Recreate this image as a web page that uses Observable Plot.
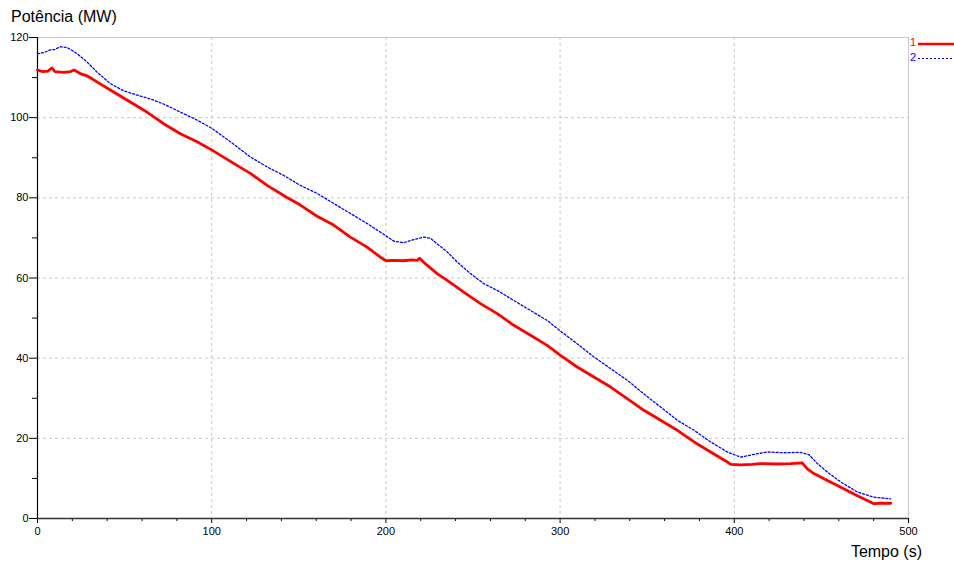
<!DOCTYPE html>
<html>
<head>
<meta charset="utf-8">
<script src="https://cdn.jsdelivr.net/npm/d3@7"></script>
<script src="https://cdn.jsdelivr.net/npm/@observablehq/plot@0.6"></script>
<style>
  html, body { margin: 0; padding: 0; background: #fff; }
  #chart { width: 954px; height: 563px; }
</style>
</head>
<body>
<div id="chart"></div>
<script>
// Series 1 (red, solid) — time (s) and power (MW)
const t1 = [0, 3, 6, 8.3, 10, 15, 19, 21, 24.5, 28, 32, 41.8, 51.3, 62.8, 72.4, 82, 91.6, 100.2, 112.6, 122.2,
  131.8, 143.2, 150.9, 160.5, 170, 179.6, 189.2, 196.8, 200, 205, 210, 215, 218, 219.4, 223.6, 229.4, 235.2,
  244.7, 254.3, 263.9, 273.4, 283, 292.6, 300.2, 309.8, 319.4, 329, 338.5, 348.1, 357.7, 367.3, 376.9, 386.4,
  396, 398, 403.6, 410, 415.1, 425, 432.3, 439, 441.9, 445.7, 451.5, 461.1, 470.6, 480.2, 484, 489.8];
const p1 = [111.9, 111.5, 111.6, 112.4, 111.5, 111.3, 111.5, 111.9, 111, 110.5, 109.5, 106.9, 104.4, 101.4, 98.5, 96, 94, 91.9, 88.6, 86.1,
  83.1, 80.1, 78.2, 75.4, 73.2, 70.2, 67.7, 65.2, 64.3, 64.4, 64.3, 64.5, 64.4, 64.9, 63.2, 61.1, 59.4,
  56.5, 53.6, 51.1, 48.2, 45.7, 43.2, 40.7, 37.8, 35.3, 32.8, 29.9, 27, 24.5, 22, 19.1, 16.6,
  14.1, 13.5, 13.4, 13.5, 13.7, 13.6, 13.7, 13.9, 12.4, 11.2, 9.9, 7.8, 5.7, 3.7, 3.8, 3.8];

// Series 2 (blue, dotted)
const t2 = [0, 4, 7.3, 10, 13, 16.9, 19, 22.6, 28.4, 34.1, 41.8, 49.4, 59, 66, 72.4, 83.9, 91.6, 100.2, 110.7, 122.2,
  131.8, 141.3, 150.9, 160.5, 170, 179.6, 189.2, 198.7, 204.5, 210.2, 216, 221.7, 225.6, 230.3, 235.2, 240.9,
  248.5, 256.2, 263.9, 273.4, 283, 292.6, 302.2, 309.8, 319.4, 329, 338.5, 348.1, 357.7, 367.3, 376.9, 386.4,
  396, 403.6, 411.3, 419, 428.5, 438.1, 442.9, 447.7, 453.4, 461.1, 470.6, 480.2, 489.8];
const p2 = [115.9, 116.3, 116.9, 117, 117.7, 117.5, 117, 116, 113.9, 111.4, 108.5, 106.7, 105.4, 104.5, 103.4, 101, 99.4, 97.3, 94, 90.2,
  87.7, 85.6, 83.1, 81.1, 78.6, 76.1, 73.6, 70.9, 69.2, 68.8, 69.6, 70.2, 69.9, 68.2, 66.5, 64,
  61.1, 58.6, 56.9, 54.4, 51.9, 49.4, 46.1, 43.6, 40.3, 37.4, 34.5, 31.1, 27.8, 24.5, 22, 19.1,
  16.6, 15.3, 16, 16.6, 16.4, 16.5, 15.9, 13.7, 11.6, 9.1, 6.6, 5.3, 4.9];

// Ticks and labels
const xMajor = [0, 100, 200, 300, 400, 500];
const xMinor = [20, 40, 60, 80, 120, 140, 160, 180, 220, 240, 260, 280, 320, 340, 360, 380, 420, 440, 460, 480];
const yMajor = [0, 20, 40, 60, 80, 100, 120];
const yMinor = [10, 30, 50, 70, 90, 110];
const xGrid = [100, 200, 300, 400];
const yGrid = [20, 40, 60, 80, 100];
const yTitle = "Potência (MW)";
const xTitle = "Tempo (s)";
const seriesNames = ["1", "2"];
const seriesColors = ["#ff0000", "#0000ff"];

const s1 = t1.map((t, i) => ({t, p: p1[i]}));
const s2 = t2.map((t, i) => ({t, p: p2[i]}));

const W = 954, H = 563;
const gridStyle = {stroke: "#c8c8c8", strokeOpacity: 1, strokeDasharray: "3,3"};

const svg = Plot.plot({
  width: W,
  height: H,
  marginLeft: 37,
  marginRight: 46,
  marginTop: 37,
  marginBottom: 45,
  style: {fontFamily: "'Liberation Sans', Arial, sans-serif", fontSize: "11px", background: "#fff", color: "#000"},
  x: {domain: [0, 500], label: null},
  y: {domain: [0, 120], label: null},
  marks: [
    Plot.gridX(xGrid, gridStyle),
    Plot.gridY(yGrid, gridStyle),
    Plot.ruleY([120], {stroke: "#c8c8c8"}),
    Plot.ruleX([500], {stroke: "#c8c8c8"}),
    Plot.axisY(yMajor, {tickSize: 8, tickPadding: 1, label: null, stroke: "#000", strokeOpacity: 1}),
    Plot.axisY(yMinor, {tickSize: 5, tickFormat: () => "", label: null, stroke: "#000", strokeOpacity: 1}),
    Plot.axisX(xMajor, {tickSize: 5, tickPadding: 4, label: null, stroke: "#000", strokeOpacity: 1}),
    Plot.axisX(xMinor, {tickSize: 3, tickFormat: () => "", label: null, stroke: "#000", strokeOpacity: 1}),
    Plot.ruleX([0], {stroke: "#000", strokeWidth: 1.2}),
    Plot.ruleY([0], {stroke: "#333", strokeWidth: 1.5}),
    Plot.line(s2, {x: "t", y: "p", stroke: seriesColors[1], strokeWidth: 1.3, strokeDasharray: "2,2"}),
    Plot.line(s1, {x: "t", y: "p", stroke: seriesColors[0], strokeWidth: 2.8})
  ]
});

const root = d3.select(svg);
root.append("text")
  .attr("x", 11).attr("y", 22).attr("text-anchor", "start")
  .attr("font-size", 16).attr("font-family", "'Liberation Sans', Arial, sans-serif")
  .attr("fill", "#000").text(yTitle);
root.append("text")
  .attr("x", 922).attr("y", 557).attr("text-anchor", "end")
  .attr("font-size", 16).attr("font-family", "'Liberation Sans', Arial, sans-serif")
  .attr("fill", "#000").text(xTitle);

// Legend
const lg = root.append("g");
seriesNames.forEach((name, i) => {
  const yy = 44 + i * 14.5;
  lg.append("text").attr("x", 910).attr("y", yy + 2).attr("text-anchor", "start")
    .attr("font-size", 11).attr("fill", seriesColors[i]).text(name);
  lg.append("line").attr("x1", 918).attr("x2", 954).attr("y1", yy).attr("y2", yy)
    .attr("stroke", seriesColors[i])
    .attr("stroke-width", i === 0 ? 2.5 : 1.2)
    .attr("stroke-dasharray", i === 0 ? null : "2,2");
});

document.getElementById("chart").appendChild(svg);
</script>
</body>
</html>
